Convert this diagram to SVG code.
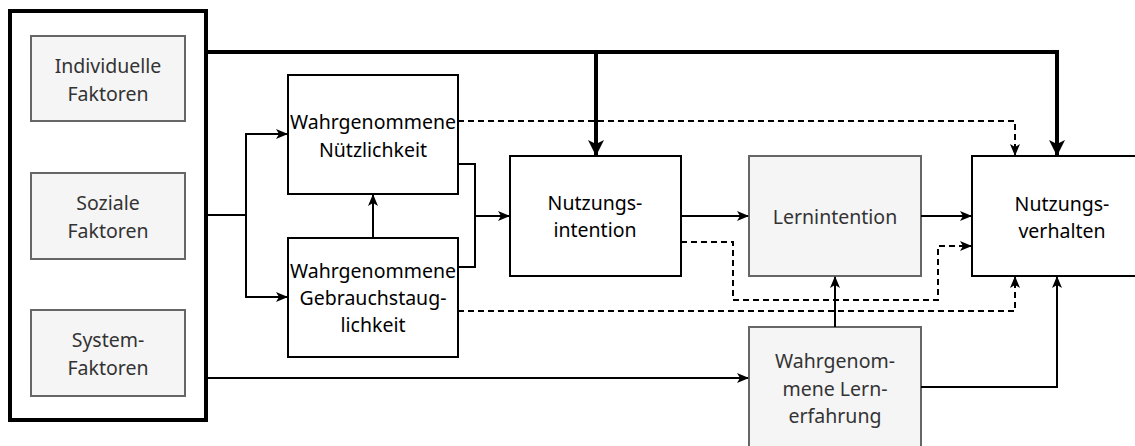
<svg xmlns="http://www.w3.org/2000/svg" width="1135" height="446" viewBox="0 0 1135 446">
  <style>
    .t { font-family: "Noto Sans", "Open Sans", sans-serif; font-size: 19.5px; text-anchor: middle; dominant-baseline: central; }
    .dark { fill: #000; }
    .grey { fill: #333; }
    .wbox { fill: #fff; stroke: #000; stroke-width: 2; }
    .gbox { fill: #f5f5f5; stroke: #666; stroke-width: 2; }
    .ln { fill: none; stroke: #000; stroke-width: 2; }
    .dash { fill: none; stroke: #000; stroke-width: 2; stroke-dasharray: 6 4; }
    .thick { fill: none; stroke: #000; stroke-width: 4; }
  </style>
  <defs>
    <marker id="arr" viewBox="0 0 12 10" refX="11" refY="5" markerWidth="12" markerHeight="10" markerUnits="userSpaceOnUse" orient="auto">
      <path d="M0,0 L12,5 L0,10 L3,5 Z" fill="#000"/>
    </marker>
    <marker id="arrBig" viewBox="0 0 16 16" refX="15" refY="8" markerWidth="16" markerHeight="16" markerUnits="userSpaceOnUse" orient="auto">
      <path d="M0,0 L16,8 L0,16 L4,8 Z" fill="#000"/>
    </marker>
  </defs>

  <!-- influencing factors container -->
  <g id="faktoren">
    <rect x="10" y="11" width="196" height="409" fill="#fff" stroke="#000" stroke-width="4"/>
  </g>
  <g id="individuelle-faktoren">
    <rect class="gbox" x="31" y="36" width="154" height="85"/>
    <text class="t grey" x="108" y="65">Individuelle</text>
    <text class="t grey" x="108" y="93">Faktoren</text>
  </g>
  <g id="soziale-faktoren">
    <rect class="gbox" x="31" y="173" width="154" height="86"/>
    <text class="t grey" x="108" y="202">Soziale</text>
    <text class="t grey" x="108" y="230">Faktoren</text>
  </g>
  <g id="system-faktoren">
    <rect class="gbox" x="31" y="310" width="154" height="86"/>
    <text class="t grey" x="108" y="339">System-</text>
    <text class="t grey" x="108" y="367">Faktoren</text>
  </g>

  <g id="nuetzlichkeit">
    <rect class="wbox" x="288" y="75" width="170" height="119"/>
    <text class="t dark" x="373" y="121">Wahrgenommene</text>
    <text class="t dark" x="373" y="149">Nützlichkeit</text>
  </g>
  <g id="gebrauchstauglichkeit">
    <rect class="wbox" x="288" y="238" width="170" height="119"/>
    <text class="t dark" x="373" y="270">Wahrgenommene</text>
    <text class="t dark" x="373" y="297">Gebrauchstaug-</text>
    <text class="t dark" x="373" y="324">lichkeit</text>
  </g>
  <g id="nutzungsintention">
    <rect class="wbox" x="510" y="156" width="171" height="120"/>
    <text class="t dark" x="595" y="202">Nutzungs-</text>
    <text class="t dark" x="595" y="229">intention</text>
  </g>
  <g id="lernintention">
    <rect class="gbox" x="749" y="156" width="172" height="120"/>
    <text class="t grey" x="835" y="216">Lernintention</text>
  </g>
  <g id="lernerfahrung">
    <rect class="gbox" x="749" y="327" width="172" height="130"/>
    <text class="t grey" x="835" y="360">Wahrgenom-</text>
    <text class="t grey" x="835" y="388">mene Lern-</text>
    <text class="t grey" x="835" y="415">erfahrung</text>
  </g>
  <g id="nutzungsverhalten">
    <rect class="wbox" x="972" y="156" width="170" height="120"/>
    <text class="t dark" x="1062" y="203">Nutzungs-</text>
    <text class="t dark" x="1062" y="230">verhalten</text>
  </g>

  <g id="connectors">
    <!-- factors to perceived usefulness / usability -->
    <path class="ln" d="M206,215 H246 V134 H287" marker-end="url(#arr)"/>
    <path class="ln" d="M246,215 V297 H287" marker-end="url(#arr)"/>
    <!-- usability to usefulness -->
    <path class="ln" d="M373,238 V195" marker-end="url(#arr)"/>
    <!-- both into intention -->
    <path class="ln" d="M458,164 H475 V267 H458"/>
    <path class="ln" d="M475,216 H509" marker-end="url(#arr)"/>
    <!-- intention chain -->
    <path class="ln" d="M681,216 H748" marker-end="url(#arr)"/>
    <path class="ln" d="M921,216 H971" marker-end="url(#arr)"/>
    <!-- dashed direct effects -->
    <path class="dash" d="M458,121 H1015 V155" marker-end="url(#arr)"/>
    <path class="dash" d="M681,242 H733 V300 H938 V246 H971" marker-end="url(#arr)"/>
    <path class="dash" d="M458,311 H1015 V277" marker-end="url(#arr)"/>
    <!-- system factors to learning experience -->
    <path class="ln" d="M206,378 H748" marker-end="url(#arr)"/>
    <path class="ln" d="M835,327 V277" marker-end="url(#arr)"/>
    <path class="ln" d="M921,387 H1057 V277" marker-end="url(#arr)"/>
    <!-- thick direct influence of the factors -->
    <path class="thick" d="M206,52 H1057 V155" marker-end="url(#arrBig)"/>
    <path class="thick" d="M596,52 V155" marker-end="url(#arrBig)"/>
  </g>
</svg>
